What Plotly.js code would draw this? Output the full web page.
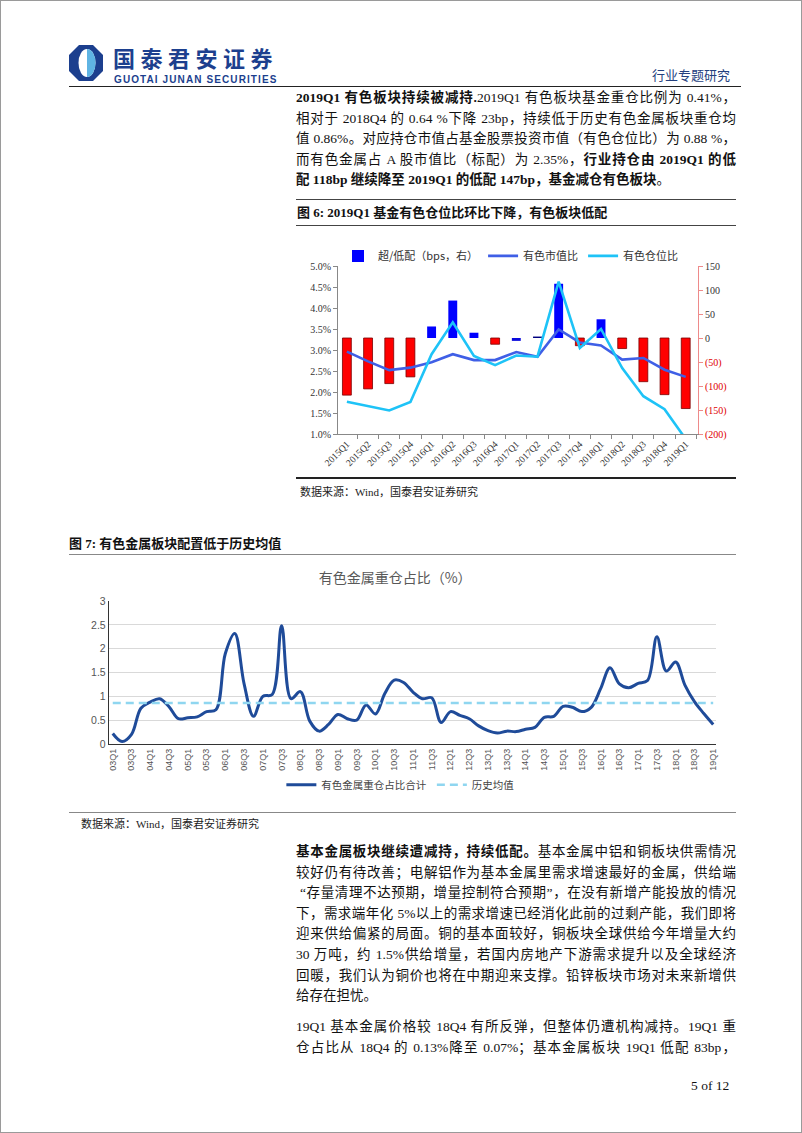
<!DOCTYPE html>
<html><head><meta charset="utf-8">
<script src="https://cdn.plot.ly/plotly-3.0.1.min.js"></script>
<style>
body{margin:0;background:#fff;}
#page{position:relative;width:800px;height:1131px;border:1px solid #9a9a9a;overflow:hidden;font-family:"Liberation Serif","Noto Sans CJK SC",serif;color:#111;background:#fff;}
.abs{position:absolute;}
.p{position:absolute;left:295px;width:440px;font-size:13.5px;}
.ln{height:20.6px;line-height:20.6px;text-align:justify;text-align-last:justify;white-space:nowrap;}
.ln.last{text-align-last:left;}
b{font-weight:bold;}
.hr{position:absolute;height:0;}
.figt{position:absolute;font-size:13px;font-weight:bold;white-space:nowrap;}
.src{position:absolute;font-size:11px;color:#222;white-space:nowrap;}
</style></head>
<body>
<div id="page">
  <!-- header -->
  <svg class="abs" style="left:67px;top:43px" width="36" height="38" viewBox="0 0 36 38">
    <polygon points="11,1 25,1 35,11 35,27 25,37 11,37 1,27 1,11" fill="#1c3f8e"/>
    <ellipse cx="19" cy="19" rx="8.5" ry="14" fill="#ffffff"/>
    <path d="M19,5 A8.5,14 0 0 1 19,33 Z" fill="#5fb4e3"/>
  </svg>
  <div class="abs" style="left:112px;top:44px;font-family:'Noto Sans CJK SC';font-weight:bold;font-size:22px;letter-spacing:5.5px;color:#1c3f8e;line-height:24px;white-space:nowrap;">国泰君安证券</div>
  <div class="abs" style="left:113px;top:73px;font-family:'Liberation Sans',Arial;font-weight:bold;font-size:10px;letter-spacing:1.1px;color:#1c3f8e;line-height:11px;white-space:nowrap;">GUOTAI JUNAN SECURITIES</div>
  <div class="abs" style="left:651px;top:66px;font-family:'Noto Sans CJK SC';font-size:13px;color:#24407e;line-height:16px;white-space:nowrap;">行业专题研究</div>
  <div class="hr" style="left:68px;top:85px;width:672px;border-top:1.5px solid #222;"></div>

  <div class="p" style="top:87px;">
    <div class="ln"><b>2019Q1 有色板块持续被减持.</b>2019Q1 有色板块基金重仓比例为 0.41%，</div>
    <div class="ln">相对于 2018Q4 的 0.64 %下降 23bp，持续低于历史有色金属板块重仓均</div>
    <div class="ln">值 0.86%。对应持仓市值占基金股票投资市值（有色仓位比）为 0.88 %，</div>
    <div class="ln">而有色金属占 A 股市值比（标配）为 2.35%，<b>行业持仓由 2019Q1 的低</b></div>
    <div class="ln last"><b>配 118bp 继续降至 2019Q1 的低配 147bp，基金减仓有色板块</b>。</div>
  </div>

  <div class="hr" style="left:295px;top:198px;width:440px;border-top:1px solid #444;"></div>
  <div class="figt" style="left:296px;top:201px;">图 6: 2019Q1 基金有色仓位比环比下降，有色板块低配</div>
  <div class="hr" style="left:295px;top:224px;width:440px;border-top:1px solid #444;"></div>
  <div id="chart1" class="abs" style="left:295px;top:228px;width:440px;height:247px;"></div>
  <div class="hr" style="left:295px;top:476px;width:440px;border-top:2px solid #222;"></div>
  <div class="src" style="left:299px;top:482px;">数据来源：Wind，国泰君安证券研究</div>

  <div class="figt" style="left:68px;top:532px;">图 7: 有色金属板块配置低于历史均值</div>
  <div class="hr" style="left:68px;top:553px;width:667px;border-top:1px solid #888;"></div>
  <div id="chart2" class="abs" style="left:68px;top:555px;width:667px;height:255px;"></div>
  <div class="hr" style="left:68px;top:811px;width:667px;border-top:1.5px solid #888;"></div>
  <div class="src" style="left:80px;top:814px;">数据来源：Wind，国泰君安证券研究</div>

  <div class="p" style="top:841px;">
    <div class="ln"><b>基本金属板块继续遭减持，持续低配。</b>基本金属中铝和铜板块供需情况</div>
    <div class="ln">较好仍有待改善；电解铝作为基本金属里需求增速最好的金属，供给端</div>
    <div class="ln">&nbsp;“存量清理不达预期，增量控制符合预期”，在没有新增产能投放的情况</div>
    <div class="ln">下，需求端年化 5%以上的需求增速已经消化此前的过剩产能，我们即将</div>
    <div class="ln">迎来供给偏紧的局面。铜的基本面较好，铜板块全球供给今年增量大约</div>
    <div class="ln">30 万吨，约 1.5%供给增量，若国内房地产下游需求提升以及全球经济</div>
    <div class="ln">回暖，我们认为铜价也将在中期迎来支撑。铅锌板块市场对未来新增供</div>
    <div class="ln last">给存在担忧。</div>
  </div>
  <div class="p" style="top:1016px;">
    <div class="ln">19Q1 基本金属价格较 18Q4 有所反弹，但整体仍遭机构减持。19Q1 重</div>
    <div class="ln">仓占比从 18Q4 的 0.13%降至 0.07%；基本金属板块 19Q1 低配 83bp，</div>
  </div>
  <div class="abs" style="left:690px;top:1077px;font-size:13.5px;white-space:nowrap;">5 of 12</div>
</div>

<script>
// ---------- Chart 6 data ----------
const quarters6 = ['2015Q1','2015Q2','2015Q3','2015Q4','2016Q1','2016Q2','2016Q3','2016Q4','2017Q1','2017Q2','2017Q3','2017Q4','2018Q1','2018Q2','2018Q3','2018Q4','2019Q1'];
const overUnderBps = [-119,-106,-95,-81,24,78,11,-13,-6,3,113,-16,39,-22,-91,-118,-147];
const mktCapRatio = [2.96,2.73,2.52,2.58,2.71,2.90,2.76,2.76,2.95,2.84,3.49,3.18,3.11,2.77,2.81,2.53,2.36];
const positionRatio = [1.77,1.66,1.56,1.76,2.90,3.66,2.86,2.64,2.87,2.84,4.63,3.05,3.50,2.57,1.90,1.59,0.88];
const rightTickVals = [150,100,50,0,-50,-100,-150,-200];
const rightTickText = ['150','100','50','0','(50)','(100)','(150)','(200)'];

// ---------- Chart 7 data ----------
const quarters7 = ['03Q1','03Q2','03Q3','03Q4','04Q1','04Q2','04Q3','04Q4','05Q1','05Q2','05Q3','05Q4','06Q1','06Q2','06Q3','06Q4','07Q1','07Q2','07Q3','07Q4','08Q1','08Q2','08Q3','08Q4','09Q1','09Q2','09Q3','09Q4','10Q1','10Q2','10Q3','10Q4','11Q1','11Q2','11Q3','11Q4','12Q1','12Q2','12Q3','12Q4','13Q1','13Q2','13Q3','13Q4','14Q1','14Q2','14Q3','14Q4','15Q1','15Q2','15Q3','15Q4','16Q1','16Q2','16Q3','16Q4','17Q1','17Q2','17Q3','17Q4','18Q1','18Q2','18Q3','18Q4','19Q1'];
const heavyHoldingRatio = [0.22,0.05,0.20,0.75, 0.88,0.95,0.78,0.53, 0.55,0.57,0.68,0.72, 1.90,2.32,1.26,0.58, 1.00,1.04,2.48,0.95, 1.10,0.48,0.27,0.41, 0.62,0.53,0.50,0.82, 0.63,1.06,1.34,1.29, 1.09,0.95,0.97,0.45, 0.68,0.60,0.53,0.38, 0.28,0.23,0.27,0.26, 0.31,0.35,0.56,0.58, 0.79,0.77,0.68,0.77, 1.16,1.60,1.26,1.18, 1.27,1.33,2.25,1.53, 1.72,1.23,0.89,0.64, 0.41];
const historicalAvg = 0.86;
const labelQuarters7 = ['03Q1','03Q3','04Q1','04Q3','05Q1','05Q3','06Q1','06Q3','07Q1','07Q3','08Q1','08Q3','09Q1','09Q3','10Q1','10Q3','11Q1','11Q3','12Q1','12Q3','13Q1','13Q3','14Q1','14Q3','15Q1','15Q3','16Q1','16Q3','17Q1','17Q3','18Q1','18Q3','19Q1'];

// ---------- styles ----------
const SERIF = 'Liberation Serif, Noto Sans CJK SC, serif';
const CJK = 'Noto Sans CJK SC, sans-serif';
const RED = '#ff0000', BLUE = '#0000ff';
const barColors = [RED,RED,RED,RED,BLUE,BLUE,BLUE,RED,'#0a0adc','#000080',BLUE,RED,BLUE,RED,RED,RED,RED];
const tickTextStyled = rightTickVals.map((v,i) => v < 0 ? '<span style="color:#e00000">' + rightTickText[i] + '</span>' : rightTickText[i]);

// split the bars into the blue (legend) and red groups, by their colour
const blueY = overUnderBps.map((v,i) => barColors[i] !== RED ? v : null);
const redY  = overUnderBps.map((v,i) => barColors[i] === RED ? v : null);
const blueCols = barColors.map(c => c === RED ? BLUE : c);

const traces1 = [
  {type:'bar', name:'超/低配（bps，右）', x:quarters6, y:blueY, yaxis:'y', width:0.42,
   marker:{color:blueCols, line:{width:0}}},
  {type:'bar', name:'red', showlegend:false, x:quarters6, y:redY, yaxis:'y', width:0.42,
   marker:{color:RED, line:{color:'#7a0000', width:0.8}}},
  {type:'scatter', mode:'lines', name:'有色市值比', x:quarters6, y:mktCapRatio, yaxis:'y2',
   line:{color:'#3f5fe6', width:2.6}},
  {type:'scatter', mode:'lines', name:'有色仓位比', x:quarters6, y:positionRatio, yaxis:'y2',
   line:{color:'#1ec3f7', width:2.6}, cliponaxis:true}
];
const layout1 = {
  width:440, height:247, margin:{l:42,r:38,t:29,b:42},
  paper_bgcolor:'rgba(0,0,0,0)', plot_bgcolor:'rgba(0,0,0,0)',
  barmode:'overlay',
  showlegend:true,
  legend:{orientation:'h', x:0.0, xanchor:'left', y:1.06, yanchor:'middle', font:{family:CJK, size:11, color:'#333'}, itemgap:24, traceorder:'normal'},
  xaxis:{type:'category', range:[-0.42,16.58], tickangle:-45, tickson:'boundaries', ticks:'outside', ticklen:4, tickcolor:'#888',
         showline:true, linecolor:'#888', linewidth:1, showgrid:false, zeroline:false, tickfont:{family:SERIF, size:9.5, color:'#333'}},
  yaxis:{side:'right', range:[-200,150], tickvals:rightTickVals, ticktext:tickTextStyled, showline:true, linecolor:'#ee8a8a',
         ticks:'outside', ticklen:4, tickcolor:'#ee8a8a', showgrid:false, zeroline:false, tickfont:{family:SERIF, size:10, color:'#333'}},
  yaxis2:{overlaying:'y', side:'left', range:[1,5], dtick:0.5, tickformat:'.1f', ticksuffix:'%', showline:true, linecolor:'#888',
          ticks:'outside', ticklen:4, tickcolor:'#888', showgrid:false, zeroline:false, tickfont:{family:SERIF, size:10, color:'#333'}}
};
Plotly.newPlot('chart1', traces1, layout1, {displayModeBar:false, staticPlot:true});

const traces2 = [
  {type:'scatter', mode:'lines', name:'有色金属重仓占比合计', x:quarters7, y:heavyHoldingRatio,
   line:{color:'#1f4b99', width:3, shape:'spline', smoothing:1}},
  {type:'scatter', mode:'lines', name:'历史均值', x:[quarters7[0], quarters7[quarters7.length-1]], y:[historicalAvg, historicalAvg],
   line:{color:'#8fd6f0', width:2.5, dash:'8px,5px'}}
];
const layout2 = {
  width:667, height:255, margin:{l:40,r:20,t:45,b:62},
  paper_bgcolor:'rgba(0,0,0,0)', plot_bgcolor:'rgba(0,0,0,0)',
  title:{text:'有色金属重仓占比（%）', xref:'container', x:0.489, xanchor:'center', yref:'container', y:0.914, yanchor:'middle',
         font:{family:CJK, size:14, color:'#595959'}},
  showlegend:true,
  legend:{orientation:'h', x:0.48, xanchor:'center', y:-0.285, yanchor:'middle', font:{family:CJK, size:10.5, color:'#444'}, itemgap:26},
  xaxis:{type:'category', categoryorder:'array', categoryarray:quarters7, range:[-0.4,64.3], tickmode:'array', tickvals:labelQuarters7, ticktext:labelQuarters7,
         tickangle:-90, ticks:'', showline:true, linecolor:'#333', linewidth:1.2, showgrid:false, zeroline:false,
         tickfont:{family:'Liberation Sans, Arial', size:9, color:'#555'}},
  yaxis:{range:[0,3], dtick:0.5, showline:true, linecolor:'#333', linewidth:1.2, gridcolor:'#d9d9d9', gridwidth:1, zeroline:false,
         ticks:'', tickfont:{family:'Liberation Sans, Arial', size:10.5, color:'#555'}}
};
Plotly.newPlot('chart2', traces2, layout2, {displayModeBar:false, staticPlot:true});
</script>
</body></html>
